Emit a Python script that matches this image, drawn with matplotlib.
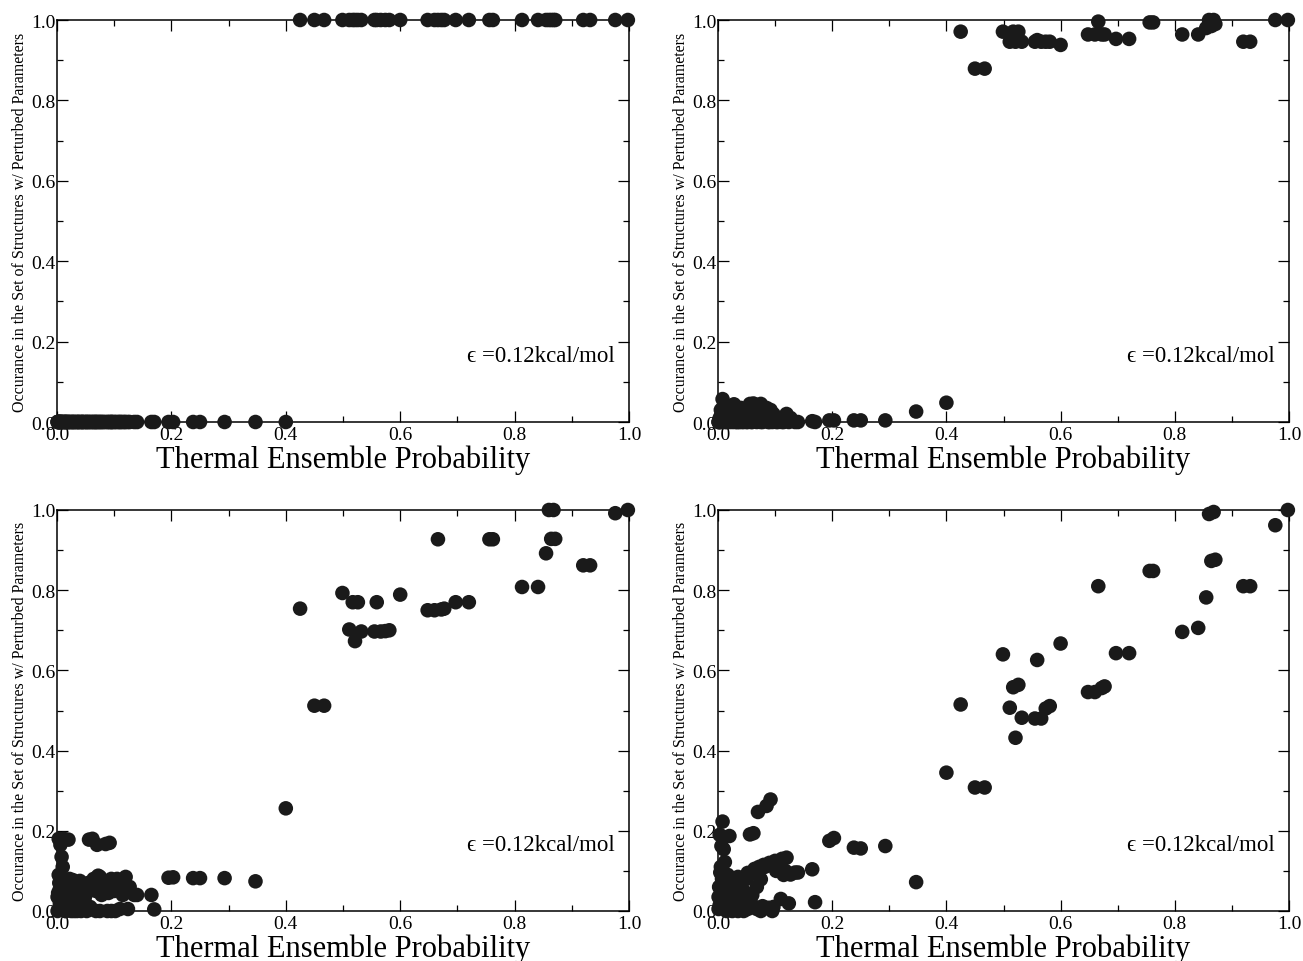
import matplotlib
matplotlib.use("Agg")
import matplotlib.pyplot as plt
import matplotlib.ticker as mtick
import numpy as np

plt.rcParams.update({
    "font.family": ["Liberation Serif", "DejaVu Serif"],
    "xtick.direction": "in",
    "ytick.direction": "in",
    "xtick.top": True,
    "ytick.right": True,
    "axes.linewidth": 1.1,
})

DOT = "#1a1a1a"

# thermal ensemble probability of each structure (shared by all panels)
x_low = [0.003, 0.006, 0.008, 0.010, 0.012, 0.020, 0.004, 0.002, 0.005, 0.001,
         0.003, 0.008, 0.015, 0.018, 0.022, 0.028, 0.030, 0.033, 0.038, 0.042,
         0.045, 0.050, 0.052, 0.056, 0.062, 0.060, 0.065, 0.070, 0.072, 0.075,
         0.078, 0.080, 0.085, 0.088, 0.092, 0.095, 0.100, 0.105, 0.110, 0.115,
         0.120, 0.124, 0.127, 0.135, 0.140, 0.025, 0.015, 0.068,
         0.007, 0.010, 0.013, 0.017, 0.020, 0.024, 0.027, 0.030, 0.035, 0.038,
         0.040, 0.044, 0.048, 0.052, 0.055, 0.058, 0.064, 0.068, 0.082, 0.090,
         0.097, 0.102, 0.108, 0.112, 0.118, 0.003, 0.001, 0.005, 0.015, 0.035,
         0.045, 0.075, 0.095,
         0.165, 0.170, 0.195, 0.203, 0.238, 0.250, 0.293, 0.347]
x_high = [0.400, 0.425, 0.450, 0.467, 0.499, 0.511, 0.517, 0.521, 0.526, 0.532,
          0.555, 0.559, 0.566, 0.574, 0.581, 0.600, 0.648, 0.660, 0.666, 0.672,
          0.677, 0.697, 0.720, 0.756, 0.762, 0.813, 0.841, 0.855, 0.860, 0.864,
          0.868, 0.871, 0.920, 0.932, 0.976, 0.998]

# occurrence in perturbed set, panel by panel
occ1_low = [0.0] * len(x_low)
occ1_high = [0.0] + [1.0] * 35

occ2_low = [0.010, 0.020, 0.057, 0.040, 0.030, 0.015, 0.005, 0.0, 0.0, 0.0,
            0.005, 0.0, 0.010, 0.020, 0.005, 0.044, 0.010, 0.0, 0.005, 0.0,
            0.010, 0.0, 0.005, 0.045, 0.046, 0.0, 0.010, 0.030, 0.040, 0.045,
            0.0, 0.020, 0.035, 0.0, 0.030, 0.010, 0.005, 0.0, 0.005, 0.0,
            0.020, 0.0, 0.010, 0.0, 0.0, 0.0, 0.0, 0.0,
            0.010, 0.0, 0.015, 0.005, 0.0, 0.025, 0.010, 0.0, 0.020, 0.0,
            0.035, 0.005, 0.015, 0.0, 0.025, 0.0, 0.030, 0.010, 0.005, 0.0,
            0.020, 0.0, 0.010, 0.0, 0.005, 0.0, 0.0, 0.030, 0.0, 0.0,
            0.0, 0.0, 0.0,
            0.002, 0.0, 0.004, 0.004, 0.004, 0.004, 0.004, 0.026]
occ2_high = [0.048, 0.971, 0.879, 0.879, 0.971, 0.946, 0.971, 0.946, 0.971, 0.946,
             0.946, 0.950, 0.946, 0.946, 0.946, 0.938, 0.964, 0.964, 0.996, 0.964,
             0.964, 0.953, 0.953, 0.994, 0.994, 0.964, 0.964, 0.980, 1.0, 0.985,
             1.0, 0.990, 0.946, 0.946, 1.0, 1.0]

occ3_low = [0.180, 0.165, 0.135, 0.110, 0.180, 0.178, 0.070, 0.045, 0.020, 0.0,
            0.005, 0.030, 0.050, 0.020, 0.080, 0.077, 0.040, 0.005, 0.030, 0.0,
            0.020, 0.040, 0.060, 0.178, 0.180, 0.005, 0.070, 0.165, 0.088, 0.085,
            0.040, 0.060, 0.167, 0.0, 0.170, 0.080, 0.050, 0.080, 0.005, 0.040,
            0.085, 0.005, 0.060, 0.040, 0.040, 0.0, 0.0, 0.0,
            0.060, 0.010, 0.040, 0.070, 0.010, 0.050, 0.030, 0.000, 0.060, 0.010,
            0.075, 0.050, 0.030, 0.000, 0.070, 0.010, 0.080, 0.050, 0.070, 0.045,
            0.070, 0.0, 0.055, 0.070, 0.050, 0.090, 0.035, 0.055, 0.0, 0.0,
            0.005, 0.0, 0.0,
            0.040, 0.004, 0.083, 0.084, 0.082, 0.082, 0.082, 0.074]
occ3_high = [0.256, 0.754, 0.512, 0.512, 0.793, 0.702, 0.770, 0.673, 0.770, 0.697,
             0.697, 0.770, 0.697, 0.698, 0.700, 0.789, 0.750, 0.750, 0.927, 0.752,
             0.754, 0.770, 0.770, 0.927, 0.927, 0.808, 0.808, 0.892, 1.0, 0.928,
             1.0, 0.928, 0.862, 0.862, 0.992, 1.0]

occ4_low = [0.190, 0.162, 0.223, 0.154, 0.122, 0.187, 0.096, 0.060, 0.030, 0.005,
            0.015, 0.045, 0.070, 0.040, 0.060, 0.075, 0.050, 0.010, 0.070, 0.020,
            0.050, 0.080, 0.095, 0.191, 0.194, 0.040, 0.100, 0.247, 0.110, 0.079,
            0.012, 0.115, 0.262, 0.008, 0.278, 0.120, 0.125, 0.110, 0.030, 0.090,
            0.133, 0.019, 0.091, 0.096, 0.096, 0.0, 0.005, 0.005,
            0.080, 0.040, 0.065, 0.090, 0.020, 0.080, 0.055, 0.010, 0.085, 0.030,
            0.070, 0.015, 0.045, 0.005, 0.090, 0.020, 0.105, 0.060, 0.110, 0.120,
            0.010, 0.100, 0.125, 0.130, 0.100, 0.060, 0.035, 0.110, 0.0, 0.0,
            0.0, 0.0, 0.0,
            0.104, 0.022, 0.175, 0.182, 0.158, 0.156, 0.162, 0.072]
occ4_high = [0.345, 0.515, 0.308, 0.308, 0.640, 0.507, 0.558, 0.432, 0.564, 0.482,
             0.480, 0.626, 0.480, 0.505, 0.511, 0.667, 0.546, 0.546, 0.810, 0.556,
             0.560, 0.643, 0.643, 0.848, 0.848, 0.696, 0.706, 0.782, 0.990, 0.873,
             0.995, 0.876, 0.810, 0.810, 0.962, 1.0]

panels = [(occ1_low, occ1_high), (occ2_low, occ2_high),
          (occ3_low, occ3_high), (occ4_low, occ4_high)]

W, H = 1303, 962
boxes = [(57, 21, 629, 423), (718, 21, 1289, 423),
         (57, 511, 629, 912), (718, 511, 1289, 912)]

fig = plt.figure(figsize=(W / 100, H / 100), dpi=100)
x_all = np.array(x_low + x_high)

for (l, t, r, b), (yl, yh) in zip(boxes, panels):
    ax = fig.add_axes([l / W, 1 - b / H, (r - l) / W, (b - t) / H])
    y_all = np.array(yl + yh)
    ax.scatter(x_all, y_all, s=110, color=DOT, edgecolors="none", clip_on=False, zorder=3)
    ax.set_xlim(0, 1)
    ax.set_ylim(0, 1)
    ax.xaxis.set_major_locator(mtick.MultipleLocator(0.2))
    ax.yaxis.set_major_locator(mtick.MultipleLocator(0.2))
    ax.xaxis.set_minor_locator(mtick.MultipleLocator(0.1))
    ax.yaxis.set_minor_locator(mtick.MultipleLocator(0.1))
    ax.xaxis.set_major_formatter(mtick.FormatStrFormatter("%.1f"))
    ax.yaxis.set_major_formatter(mtick.FormatStrFormatter("%.1f"))
    ax.tick_params(which="major", length=8, width=0.9, labelsize=14)
    ax.tick_params(which="minor", length=4, width=0.9)
    ax.tick_params(axis="x", pad=3)
    ax.tick_params(axis="y", pad=1)
    ax.set_xlabel("Thermal Ensemble Probability", fontsize=22, labelpad=1)
    ax.set_ylabel("Occurance in the Set of Structures w/ Perturbed Parameters",
                  fontsize=11.5, labelpad=2)
    ax.text(0.975, 0.165, "\u03f5 =0.12kcal/mol", fontsize=16.5, ha="right", va="center",
            transform=ax.transAxes)

fig.savefig("out.png", dpi=100)
